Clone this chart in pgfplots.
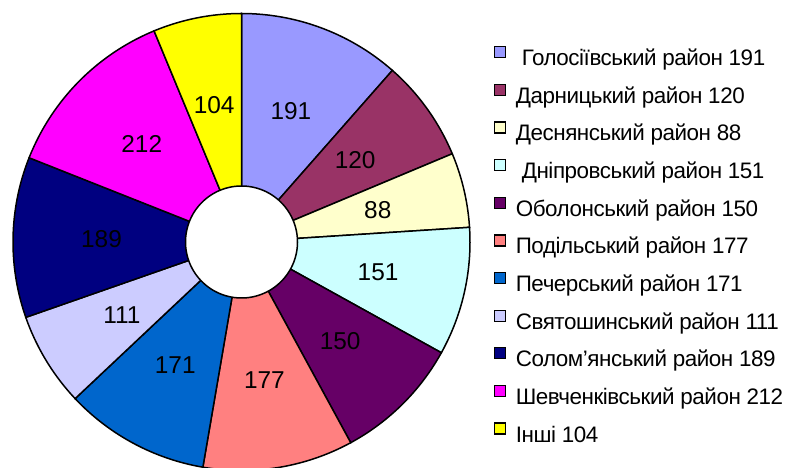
\documentclass[border=0pt]{standalone}
\usepackage{pgfplots}
\pgfplotsset{compat=1.18}
\usepackage{fontspec}
\setmainfont{Liberation Sans}
\newfontfamily\legfont[LetterSpace=-2]{Liberation Sans}
\definecolor{c1}{HTML}{9999FF}
\definecolor{c2}{HTML}{993366}
\definecolor{c3}{HTML}{FFFFCC}
\definecolor{c4}{HTML}{CCFFFF}
\definecolor{c5}{HTML}{660066}
\definecolor{c6}{HTML}{FF8080}
\definecolor{c7}{HTML}{0066CC}
\definecolor{c8}{HTML}{CCCCFF}
\definecolor{c9}{HTML}{000080}
\definecolor{c10}{HTML}{FF00FF}
\definecolor{c11}{HTML}{FFFF00}
% values of the slices, clockwise from the top
\def\pievals{191,120,88,151,150,177,171,111,189,212,104}
\def\pietotal{1664}
\def\Rout{228.5}
\def\Rin{56}
\def\Rlab{140}
\xdef\piecum{0}%
\foreach \v [count=\i] in \pievals {%
  \pgfmathsetmacro{\st}{90-(\piecum/\pietotal)*360}%
  \pgfmathsetmacro{\nc}{\piecum+\v}%
  \pgfmathsetmacro{\en}{90-(\nc/\pietotal)*360}%
  \pgfmathsetmacro{\lx}{\Rlab*cos((\st+\en)/2)}%
  \pgfmathsetmacro{\ly}{\Rlab*sin((\st+\en)/2)}%
  \expandafter\xdef\csname pieS\i\endcsname{\st}%
  \expandafter\xdef\csname pieE\i\endcsname{\en}%
  \expandafter\xdef\csname pieX\i\endcsname{\lx}%
  \expandafter\xdef\csname pieY\i\endcsname{\ly}%
  \expandafter\xdef\csname pieV\i\endcsname{\v}%
  \xdef\piecum{\nc}%
}%
\newcommand\slice[3]{% #1 index, #2 colour, #3 legend text
  \edef\tmp{\noexpand\addplot[fill=#2, draw=black, line width=1.5bp,
     domain=\csname pieE#1\endcsname:\csname pieS#1\endcsname, samples=60]
     ({\Rout*cos(x)},{\Rout*sin(x)}) -- (axis cs:0,0) -- cycle;}\tmp
  \addlegendentry{#3}
}
\newcommand\slicelabel[1]{%
  \edef\tmp{\noexpand\node[font=\noexpand\fontsize{24.5}{28}\noexpand\selectfont]
     at (axis cs:\csname pieX#1\endcsname,\csname pieY#1\endcsname) {\csname pieV#1\endcsname};}\tmp
}
\begin{document}
\begin{tikzpicture}
\begin{axis}[
  width=792bp, height=468bp, scale only axis,
  xmin=-241.5, xmax=550.5, ymin=-226, ymax=242,
  axis lines=none,
  legend cell align=left,
  legend image code/.code={\draw[#1, draw=black, line width=1.3bp] (0bp,2.5bp) rectangle (11bp,13.5bp);},
  legend style={at={(axis cs:252.5,196)}, anchor=north west, draw=none, fill=none,
    inner sep=0pt, outer sep=0pt,
    font=\legfont\fontsize{22.5}{26}\selectfont,
    nodes={inner sep=0pt, text height=15.5bp, text depth=4.5bp},
    row sep=13.5bp, column sep=9.5bp},
]
\slice{1}{c1}{\hspace{6bp}Голосіївський район 191}
\slice{2}{c2}{Дарницький район 120}
\slice{3}{c3}{Деснянський район 88}
\slice{4}{c4}{\hspace{6bp}Дніпровський район 151}
\slice{5}{c5}{Оболонський район 150}
\slice{6}{c6}{Подільський район 177}
\slice{7}{c7}{Печерський район 171}
\slice{8}{c8}{Святошинський район 111}
\slice{9}{c9}{Солом’янський район 189}
\slice{10}{c10}{Шевченківський район 212}
\slice{11}{c11}{Інші 104}
\addplot[fill=white, draw=black, line width=1.5bp, domain=0:360, samples=120]
  ({\Rin*cos(x)},{\Rin*sin(x)}) -- cycle;
\slicelabel{1}\slicelabel{2}\slicelabel{3}\slicelabel{4}\slicelabel{5}\slicelabel{6}
\slicelabel{7}\slicelabel{8}\slicelabel{9}\slicelabel{10}\slicelabel{11}
\end{axis}
\pgfresetboundingbox
\useasboundingbox (current axis.south west) rectangle (current axis.north east);
\end{tikzpicture}
\end{document}
